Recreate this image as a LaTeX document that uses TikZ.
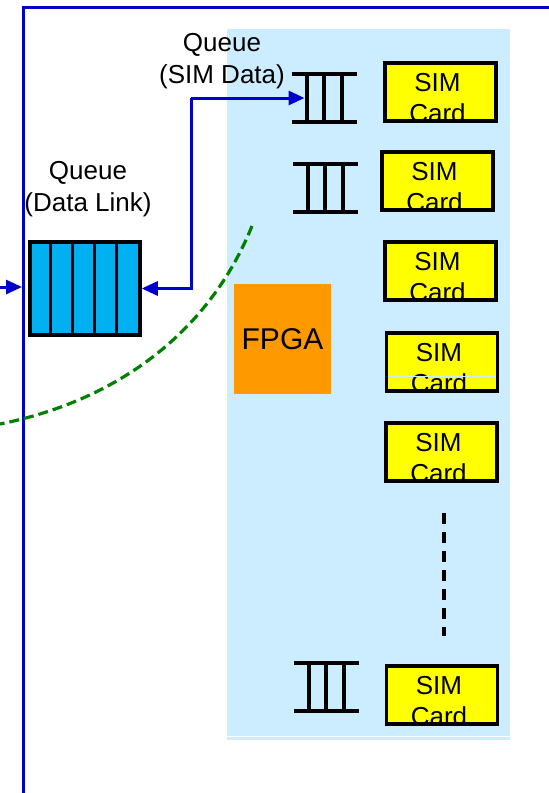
\documentclass[tikz,border=0pt]{standalone}
\usepackage{fontspec}
\setmainfont{Liberation Sans}
\usepackage{tikz}
\usetikzlibrary{arrows.meta}

\definecolor{linkblue}{RGB}{0,0,204}
\definecolor{panelblue}{RGB}{204,236,255}
\definecolor{cellblue}{RGB}{0,176,240}
\definecolor{fpgaorange}{RGB}{255,153,0}
\definecolor{simyellow}{RGB}{255,255,0}
\definecolor{curvegreen}{RGB}{0,128,0}

\tikzset{
  lbl/.style={font=\fontsize{26}{32}\selectfont, align=center, inner sep=0pt},
  simcard/.style={fill=simyellow, minimum width=111pt, minimum height=58pt, inner sep=0pt},
  simtext/.style={font=\fontsize{26}{31}\selectfont, inner sep=0pt, anchor=base},
  linkarrow/.style={linkblue, line width=3pt, -{Triangle[length=16pt,width=14pt]}},
  queuebar/.style={line width=4.5pt}
}

\begin{document}
\begin{tikzpicture}[x=1pt, y=-1pt]
\useasboundingbox (0,0) rectangle (549,793);

% light blue panel behind the cards
    \fill[panelblue] (227,29) rectangle (510,740);
    \draw[white, line width=1pt] (227,736) -- (510,736);

% blue frame
    \draw[linkblue, line width=3pt] (23.5,793) -- (23.5,7) -- (549,7);

% green boundary curve
    \draw[curvegreen, line width=3.2pt, dash pattern=on 10pt off 5pt] (252,226) .. controls (210,330) and (120,400) .. (0,424);

% labels
    \node[lbl] (simqlabel) at (222,61) {Queue\\(SIM Data)};
    \node[lbl] (dlqlabel) at (88,189) {Queue\\(Data Link)};

% data link queue
    \node[draw, line width=3.5pt, fill=cellblue, minimum width=110pt, minimum height=93pt, inner sep=0pt] (dlq) at (85,288.5) {};
    \foreach \k in {1,...,4}
        \draw[line width=3.5pt] ([xshift=\k*22pt]dlq.south west) -- ([xshift=\k*22pt]dlq.north west);

% FPGA
    \node[fill=fpgaorange, minimum width=97pt, minimum height=110pt, inner sep=0pt, font=\fontsize{30}{36}\selectfont] (fpga) at (282.5,339) {FPGA};

% SIM data queues
    \foreach \n/\xa/\ya in {one/292/74, two/293/164, three/294/663} {
        \draw[queuebar] (\xa,\ya) -- (\xa+65,\ya);
        \draw[queuebar] (\xa,\ya+48) -- (\xa+65,\ya+48);
        \foreach \dx in {15,32,50}
            \draw[queuebar] (\xa+\dx,\ya) -- (\xa+\dx,\ya+48);
        \coordinate (q\n) at (\xa+12.5,\ya+24);
    }

% SIM cards
    \foreach \n/\cx/\cy in {1/440.5/92, 2/437.5/181, 3/440.5/271, 4/442/362, 5/441.5/452, 6/442/695} {
        \node[simcard] (sim\n) at (\cx,\cy) {};
        \node[simtext] at ([xshift=-3pt,yshift=-1pt]sim\n.south) {Card};
        \node[simtext] at ([xshift=-3pt,yshift=30pt]sim\n.south) {SIM};
    }
    \draw[panelblue, line width=0.8pt] ([xshift=2pt,yshift=15pt]sim4.south west) -- ([xshift=-2pt,yshift=15pt]sim4.south east);
    \foreach \n in {1,...,6}
        \draw[line width=3.5pt] (sim\n.south west) rectangle (sim\n.north east);

% more cards
    \draw[line width=3.5pt, dash pattern=on 11pt off 8pt] (444,513) -- (444,636);

% arrows
    \coordinate (inlet) at (0,287);
    \coordinate (frameleft) at (22,287);
    \coordinate (split) at (191,98);
    \draw[linkarrow] (inlet) -- (frameleft);
    \draw[linkarrow] (split) |- (dlq.east);
    \draw[linkarrow] (split) -- (qone);
\end{tikzpicture}
\end{document}
